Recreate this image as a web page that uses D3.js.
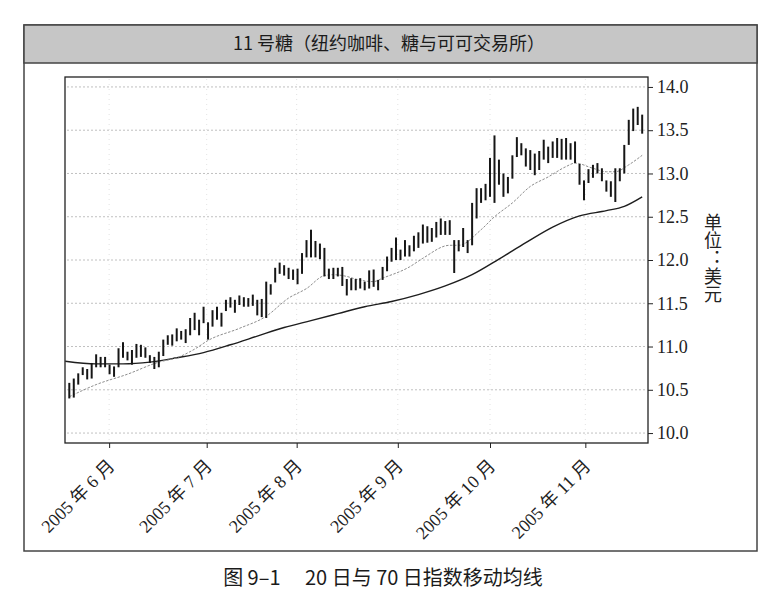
<!DOCTYPE html>
<html>
<head>
<meta charset="utf-8">
<script src="https://d3js.org/d3.v7.min.js"></script>
<style>
  body { margin: 0; background: #fff; }
  svg { display: block; }
</style>
</head>
<body>
<svg id="chart" width="765" height="600"></svg>
<script>
// daily high / low, one entry per trading day
const lows = [
  10.40, 10.41, 10.56, 10.67, 10.62, 10.63, 10.76, 10.76, 10.76, 10.68,
  10.65, 10.76, 10.87, 10.84, 10.79, 10.87, 10.88, 10.87, 10.81, 10.74,
  10.76, 10.89, 11.02, 11.01, 11.06, 11.08, 11.04, 11.13, 11.19, 11.13,
  11.27, 11.08, 11.23, 11.31, 11.23, 11.41, 11.45, 11.39, 11.48, 11.46,
  11.46, 11.47, 11.36, 11.34, 11.33, 11.60, 11.74, 11.84, 11.82, 11.78,
  11.77, 11.72, 11.84, 12.03, 12.03, 12.03, 12.01, 11.81, 11.78, 11.78,
  11.81, 11.70, 11.59, 11.65, 11.65, 11.67, 11.65, 11.67, 11.69, 11.65,
  11.77, 11.87, 11.98, 12.00, 12.00, 12.04, 12.04, 12.10, 12.14, 12.19,
  12.20, 12.21, 12.26, 12.29, 12.29, 12.29, 11.85, 12.10, 12.15, 12.08,
  12.17, 12.48, 12.66, 12.69, 12.73, 12.66, 12.87, 12.73, 12.77, 12.94,
  13.19, 13.21, 13.08, 13.04, 12.98, 13.04, 13.16, 13.12, 13.18, 13.18,
  13.16, 13.16, 13.16, 13.12, 12.87, 12.69, 12.89, 12.95, 13.00, 12.91,
  12.79, 12.73, 12.67, 12.91, 13.00, 13.33, 13.49, 13.56, 13.46
];
const highs = [
  10.58, 10.63, 10.69, 10.76, 10.74, 10.81, 10.91, 10.88, 10.88, 10.79,
  10.77, 10.98, 11.05, 10.94, 10.96, 11.03, 11.02, 10.99, 10.90, 10.88,
  10.94, 11.08, 11.13, 11.14, 11.21, 11.18, 11.20, 11.33, 11.39, 11.31,
  11.46, 11.28, 11.42, 11.46, 11.39, 11.54, 11.57, 11.54, 11.59, 11.57,
  11.56, 11.60, 11.54, 11.55, 11.75, 11.72, 11.91, 11.97, 11.94, 11.91,
  11.89, 11.90, 12.08, 12.23, 12.35, 12.22, 12.19, 12.14, 11.90, 11.91,
  11.91, 11.92, 11.78, 11.79, 11.78, 11.79, 11.75, 11.88, 11.89, 11.77,
  11.92, 12.04, 12.14, 12.26, 12.12, 12.23, 12.17, 12.28, 12.32, 12.41,
  12.39, 12.37, 12.44, 12.48, 12.45, 12.46, 12.23, 12.23, 12.37, 12.23,
  12.66, 12.83, 12.83, 12.88, 13.18, 13.44, 13.16, 13.00, 12.96, 13.21,
  13.42, 13.35, 13.29, 13.27, 13.23, 13.26, 13.39, 13.31, 13.37, 13.41,
  13.40, 13.41, 13.35, 13.37, 13.11, 12.92, 13.05, 13.10, 13.12, 13.06,
  12.92, 12.91, 13.06, 13.06, 13.33, 13.62, 13.75, 13.77, 13.68
];

// moving averages read at [day index, value]
const ema20 = [
  [0, 10.42], [6, 10.56], [13, 10.68], [20, 10.82], [24, 10.87], [28, 10.97],
  [31, 11.07], [38, 11.21], [44, 11.35], [49, 11.56], [53, 11.67], [57, 11.82],
  [59, 11.83], [62, 11.81], [64, 11.78], [68, 11.75], [70, 11.79], [76, 11.92],
  [79, 12.02], [85, 12.17], [87, 12.17], [92, 12.35], [95, 12.50], [99, 12.66],
  [103, 12.85], [107, 12.96], [111, 13.08], [113, 13.12], [117, 13.06],
  [120, 13.02], [122, 13.02], [125, 13.10], [128, 13.21]
];
const ema70 = [
  [-0.9, 10.83], [6, 10.80], [12, 10.80], [18, 10.82], [24, 10.87], [30, 10.93],
  [36, 11.02], [42, 11.12], [48, 11.22], [54, 11.30], [60, 11.38], [66, 11.46],
  [72, 11.52], [78, 11.60], [84, 11.70], [90, 11.83], [96, 12.01], [102, 12.20],
  [108, 12.38], [114, 12.51], [120, 12.57], [124, 12.62], [128, 12.73]
];

const monthTicks = [8.9, 30.7, 50.8, 73.4, 94.0, 115.3];
const monthLabels = ["2005 年 6 月", "2005 年 7 月", "2005 年 8 月", "2005 年 9 月", "2005 年 10 月", "2005 年 11 月"];
const priceTicks = [10.0, 10.5, 11.0, 11.5, 12.0, 12.5, 13.0, 13.5, 14.0];

const titleText = "11 号糖（纽约咖啡、糖与可可交易所）";
const captionText = "图 9–1\u3000 20 日与 70 日指数移动均线";
const unitText = "单位：美元";

const plot = { left: 65, right: 648, top: 77, bottom: 443 };
const serif = "'Liberation Serif', 'DejaVu Serif', 'Noto Sans CJK SC', serif";
const sans = "'Noto Sans CJK SC', 'Noto Sans', sans-serif";

const svg = d3.select("#chart");

// outer frame and title band
svg.append("rect")
  .attr("x", 24).attr("y", 25)
  .attr("width", 733).attr("height", 526)
  .attr("fill", "#fff")
  .attr("stroke", "#444")
  .attr("stroke-width", 1.5);

svg.append("rect")
  .attr("x", 24).attr("y", 25)
  .attr("width", 733).attr("height", 38)
  .attr("fill", "#c6c6c6")
  .attr("stroke", "#444")
  .attr("stroke-width", 1.5);

svg.append("text")
  .attr("x", 389).attr("y", 50)
  .attr("text-anchor", "middle")
  .style("font-family", sans)
  .style("font-size", "18px")
  .attr("fill", "#1b1b1b")
  .text(titleText);

const x = d3.scaleLinear()
  .domain([-0.96, 129.3])
  .range([plot.left, plot.right]);

const y = d3.scaleLinear()
  .domain([9.885, 14.115])
  .range([plot.bottom, plot.top]);

// grid
svg.append("g")
  .selectAll("line")
  .data(priceTicks)
  .join("line")
  .attr("x1", plot.left + 2)
  .attr("x2", plot.right - 2)
  .attr("y1", (d) => y(d))
  .attr("y2", (d) => y(d))
  .attr("stroke", "#b0b0b0")
  .attr("stroke-width", 0.8)
  .attr("stroke-dasharray", "2 2");

svg.append("g")
  .selectAll("line")
  .data(monthTicks)
  .join("line")
  .attr("x1", (d) => x(d))
  .attr("x2", (d) => x(d))
  .attr("y1", plot.top + 2)
  .attr("y2", plot.bottom - 2)
  .attr("stroke", "#dadada")
  .attr("stroke-width", 0.8)
  .attr("stroke-dasharray", "1 4");

// moving averages
const maLine = d3.line()
  .x((d) => x(d[0]))
  .y((d) => y(d[1]))
  .curve(d3.curveMonotoneX);

svg.append("path")
  .attr("d", maLine(ema70))
  .attr("fill", "none")
  .attr("stroke", "#1e1e1e")
  .attr("stroke-width", 1.4);

svg.append("path")
  .attr("d", maLine(ema20))
  .attr("fill", "none")
  .attr("stroke", "#8c8c8c")
  .attr("stroke-width", 1)
  .attr("stroke-dasharray", "2.5 1.5");

// high-low bars
svg.append("g")
  .selectAll("line")
  .data(d3.range(lows.length))
  .join("line")
  .attr("x1", (i) => x(i))
  .attr("x2", (i) => x(i))
  .attr("y1", (i) => y(lows[i]))
  .attr("y2", (i) => y(highs[i]))
  .attr("stroke", "#161616")
  .attr("stroke-width", 2);

// plot frame
svg.append("rect")
  .attr("x", plot.left).attr("y", plot.top)
  .attr("width", plot.right - plot.left)
  .attr("height", plot.bottom - plot.top)
  .attr("fill", "none")
  .attr("stroke", "#222")
  .attr("stroke-width", 1.3);

// right price axis
const yAxis = svg.append("g")
  .attr("transform", `translate(${plot.right},0)`)
  .call(d3.axisRight(y).tickValues(priceTicks).tickFormat(d3.format(".1f")).tickSize(5).tickPadding(4));
yAxis.attr("font-family", null).attr("font-size", null);
yAxis.select(".domain").remove();
yAxis.selectAll("line").attr("stroke", "#222");
yAxis.selectAll("text")
  .style("font-family", serif)
  .style("font-size", "18px")
  .attr("fill", "#222");

// bottom month axis
const xAxis = svg.append("g")
  .attr("transform", `translate(0,${plot.bottom})`)
  .call(d3.axisBottom(x).tickValues(monthTicks).tickFormat((d, i) => monthLabels[i]).tickSize(5));
xAxis.attr("font-family", null).attr("font-size", null);
xAxis.select(".domain").remove();
xAxis.selectAll("line").attr("stroke", "#222");
xAxis.selectAll("text")
  .attr("x", 0).attr("y", 0).attr("dy", 0)
  .attr("transform", "translate(6,24) rotate(-45)")
  .attr("text-anchor", "end")
  .style("font-family", serif)
  .style("font-size", "18px")
  .attr("fill", "#222");

// unit label, written top to bottom
svg.append("text")
  .attr("x", 713)
  .attr("y", 213)
  .style("writing-mode", "vertical-rl")
  .style("font-family", sans)
  .style("font-size", "18px")
  .attr("fill", "#222")
  .text(unitText);

// caption
svg.append("text")
  .attr("x", 383).attr("y", 585)
  .attr("text-anchor", "middle")
  .style("font-family", sans)
  .style("font-size", "20px")
  .style("white-space", "pre")
  .attr("fill", "#1b1b1b")
  .text(captionText);
</script>
</body>
</html>
